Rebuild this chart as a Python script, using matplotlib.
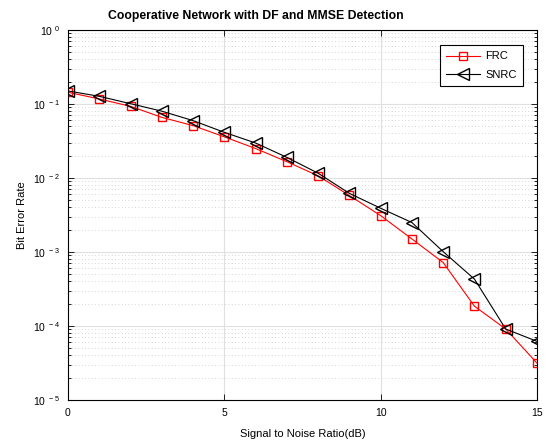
import numpy as np
from matplotlib import pyplot as plt
from matplotlib import rcParams
from matplotlib.ticker import LogLocator, NullFormatter, FuncFormatter

rcParams["font.family"] = ["Liberation Sans", "DejaVu Sans"]
rcParams["mathtext.fontset"] = "custom"
rcParams["mathtext.rm"] = "Liberation Sans"
rcParams["mathtext.default"] = "regular"

snr = [0, 1, 2, 3, 4, 5, 6, 7, 8, 9, 10, 11, 12, 13, 14, 15]
ber_frc = [0.144, 0.117, 0.093, 0.066, 0.051, 0.036, 0.025, 0.0166, 0.0107,
           0.0058, 0.0031, 0.0015, 0.00072, 0.000185, 0.000091, 0.0000315]
ber_snrc = [0.15, 0.127, 0.101, 0.080, 0.0596, 0.0414, 0.0297, 0.019, 0.0116,
            0.0062, 0.0039, 0.0025, 0.00101, 0.00043, 0.000091, 0.000062]

fig = plt.figure(figsize=(5.46, 4.41), dpi=100)
ax = fig.add_axes([0.1245, 0.093, 0.859, 0.839])

ax.semilogy(snr, ber_frc, color="red", marker="s", markersize=6.3,
            markerfacecolor="none", linewidth=0.8, label="FRC")
ax.semilogy(snr, ber_snrc, color="black", marker="<", markersize=8.5,
            markerfacecolor="none", linewidth=0.8, label="SNRC")

ax.set_xlim(0, 15)
ax.set_ylim(1e-5, 1)
ax.set_xticks([0, 5, 10, 15])
ax.yaxis.set_major_locator(LogLocator(base=10, numticks=10))
ax.yaxis.set_minor_locator(LogLocator(base=10, subs=np.arange(2, 10), numticks=10))
ax.yaxis.set_minor_formatter(NullFormatter())
ax.yaxis.set_major_formatter(
    FuncFormatter(lambda v, pos: r"$10^{\ %d}$" % round(np.log10(v))))

ax.grid(True, which="major", color="#e0e0e0", linestyle="-", linewidth=0.8)
ax.grid(True, which="minor", axis="y", color="#c8c8c8", linestyle=(0, (1, 3)),
        linewidth=0.6)
ax.set_axisbelow(True)

ax.tick_params(which="both", direction="in", top=True, right=True,
               labelsize=7.5, pad=6)
ax.tick_params(which="major", length=4, width=0.6)
ax.tick_params(which="minor", length=2.5, width=0.6)
for s in ax.spines.values():
    s.set_linewidth(0.8)

ax.set_xlabel("Signal to Noise Ratio(dB)", fontsize=8, labelpad=8)
ax.set_ylabel("Bit Error Rate", fontsize=8, labelpad=4)
ax.set_title("Cooperative Network with DF and MMSE Detection",
             fontsize=8.8, fontweight="bold", pad=8, x=0.4)

leg = ax.legend(loc="upper right", bbox_to_anchor=(0.971, 0.96), fontsize=8,
                fancybox=False, edgecolor="black", framealpha=1,
                handlelength=3.0, handletextpad=0.5, borderpad=0.6,
                labelspacing=0.75, borderaxespad=0)
leg.get_frame().set_linewidth(0.8)

fig.savefig("out.png", dpi=100)
